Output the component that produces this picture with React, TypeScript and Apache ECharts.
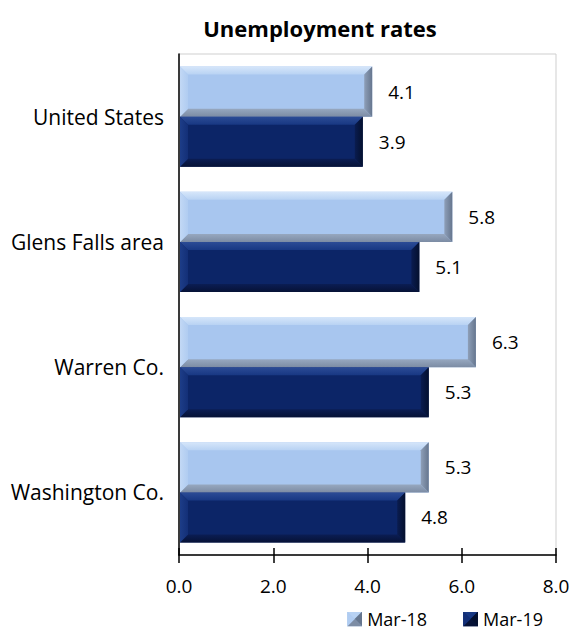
import React, { useEffect, useRef } from "react";
import * as echarts from "echarts";

const categories = ["United States", "Glens Falls area", "Warren Co.", "Washington Co."];
const seriesNames = ["Mar-18", "Mar-19"];
const mar18 = [4.1, 5.8, 6.3, 5.3];
const mar19 = [3.9, 5.1, 5.3, 4.8];

const FONT = "'Open Sans', 'Noto Sans', sans-serif";

const palettes = [
  {
    base: "#A8C6EF",
    top: ["#D6E6FA", "#B8D2F3"],
    bottom: ["#97A8C0", "#7C8CA4"],
    left: ["#C2D8F5", "#B0CCF1"],
    right: ["#8E9FB8", "#66768E"],
  },
  {
    base: "#0C2567",
    top: ["#2C4C96", "#183883"],
    bottom: ["#0B1D54", "#061236"],
    left: ["#1D3D88", "#132F77"],
    right: ["#0A1C50", "#04102E"],
  },
];

function grad(c: string[], horizontal: boolean) {
  return {
    type: "linear",
    x: 0,
    y: 0,
    x2: horizontal ? 1 : 0,
    y2: horizontal ? 0 : 1,
    colorStops: [
      { offset: 0, color: c[0] },
      { offset: 1, color: c[1] },
    ],
  };
}

function legendIcon(sIdx: number) {
  const p = palettes[sIdx];
  const svg =
    `<svg xmlns="http://www.w3.org/2000/svg" width="15" height="15" viewBox="0 0 15 15">` +
    `<rect x="0" y="0" width="15" height="15" fill="${p.base}"/>` +
    `<polygon points="0,0 15,0 7.5,7.5" fill="${p.top[1]}"/>` +
    `<polygon points="0,15 15,15 7.5,7.5" fill="${p.bottom[1]}"/>` +
    `<polygon points="0,0 0,15 7.5,7.5" fill="${p.left[1]}"/>` +
    `<polygon points="15,0 15,15 7.5,7.5" fill="${p.right[1]}"/>` +
    `</svg>`;
  return "image://data:image/svg+xml;charset=utf-8," + encodeURIComponent(svg);
}

function makeRenderItem(sIdx: number) {
  return (params: any, api: any) => {
    const val = api.value(0);
    const cat = api.value(1);
    const start = api.coord([0, cat]);
    const end = api.coord([val, cat]);
    const band = api.size([0, 1])[1];
    const h = band * 0.4;
    const x0 = start[0] + 1;
    const x1 = end[0];
    const y0 = sIdx === 0 ? start[1] - h : start[1];
    const y1 = y0 + h;
    const b = Math.min(8, h / 2, (x1 - x0) / 2);
    const p = palettes[sIdx];
    return {
      type: "group",
      children: [
        { type: "rect", shape: { x: x0, y: y0, width: x1 - x0, height: h }, style: { fill: p.base } },
        {
          type: "polygon",
          shape: { points: [[x0, y0], [x1, y0], [x1 - b, y0 + b], [x0 + b, y0 + b]] },
          style: { fill: grad(p.top, false) },
        },
        {
          type: "polygon",
          shape: { points: [[x0, y1], [x1, y1], [x1 - b, y1 - b], [x0 + b, y1 - b]] },
          style: { fill: grad(p.bottom, false) },
        },
        {
          type: "polygon",
          shape: { points: [[x0, y0], [x0 + b, y0 + b], [x0 + b, y1 - b], [x0, y1]] },
          style: { fill: grad(p.left, true) },
        },
        {
          type: "polygon",
          shape: { points: [[x1, y0], [x1 - b, y0 + b], [x1 - b, y1 - b], [x1, y1]] },
          style: { fill: grad(p.right, true) },
        },
        {
          type: "text",
          x: x1 + 16,
          y: (y0 + y1) / 2,
          style: {
            text: val.toFixed(1),
            fill: "#000",
            font: `19px ${FONT}`,
            align: "left",
            verticalAlign: "middle",
          },
        },
      ],
    };
  };
}

export default function App() {
  const ref = useRef<HTMLDivElement>(null);
  useEffect(() => {
    if (!ref.current) return;
    const chart = echarts.init(ref.current, null, { renderer: "svg" });
    const grid = { left: 179, right: 17, top: 54, bottom: 77 };
    const option: any = {
      animation: false,
      backgroundColor: "#fff",
      title: {
        text: "Unemployment rates",
        left: 315,
        textAlign: "center",
        top: 12,
        textStyle: { fontFamily: FONT, fontSize: 22, fontWeight: "bold", color: "#000" },
      },
      legend: {
        right: 30,
        bottom: 3,
        padding: 0,
        itemWidth: 15,
        itemHeight: 15,
        itemGap: 36,
        textStyle: { fontFamily: FONT, fontSize: 18, color: "#000", lineHeight: 20 },
        data: seriesNames.map((n, i) => ({ name: n, icon: legendIcon(i) })),
      },
      grid: { ...grid, show: true, borderColor: "#CFCFCF", borderWidth: 1 },
      xAxis: [
        {
          type: "value",
          min: 0,
          max: 8,
          interval: 2,
          z: 10,
          axisLine: { show: true, lineStyle: { color: "#000", width: 1.5 } },
          axisTick: { show: true, length: 8, lineStyle: { color: "#000", width: 1.5 } },
          axisLabel: {
            margin: 21,
            fontFamily: FONT,
            fontSize: 19,
            color: "#000",
            formatter: (v: number) => v.toFixed(1),
          },
          splitLine: { show: false },
        },
        {
          type: "value",
          min: 0,
          max: 8,
          interval: 2,
          position: "bottom",
          z: 10,
          axisLine: { show: false },
          axisTick: { show: true, inside: true, length: 7, lineStyle: { color: "#000", width: 1.5 } },
          axisLabel: { show: false },
          splitLine: { show: false },
        },
      ],
      yAxis: {
        type: "category",
        data: categories,
        inverse: true,
        z: 10,
        axisLine: { show: true, lineStyle: { color: "#000", width: 1.5 } },
        axisTick: { show: false },
        axisLabel: { margin: 15, fontFamily: FONT, fontSize: 21, color: "#000" },
      },
      series: [mar18, mar19].map((arr, sIdx) => ({
        type: "custom",
        name: seriesNames[sIdx],
        xAxisIndex: 0,
        yAxisIndex: 0,
        itemStyle: { color: palettes[sIdx].base },
        renderItem: makeRenderItem(sIdx),
        encode: { x: 0, y: 1 },
        data: arr.map((v, i) => [v, i]),
      })),
    };
    chart.setOption(option);
    return () => chart.dispose();
  }, []);
  return (
    <div
      ref={ref}
      style={{ position: "fixed", left: 0, top: 0, width: 573, height: 632 }}
    />
  );
}
